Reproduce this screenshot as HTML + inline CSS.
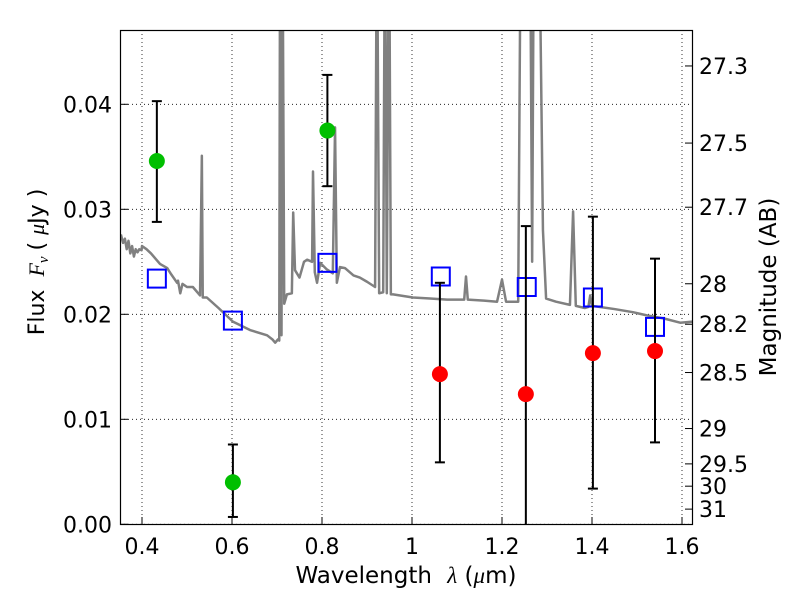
<!DOCTYPE html>
<html><head><meta charset="utf-8"><style>
body{margin:0;background:#fff;}
svg{display:block;font-family:"DejaVu Sans","Liberation Sans",sans-serif;}
</style></head><body>
<svg id="chart" width="800" height="600" viewBox="0 0 800 600">
<defs><clipPath id="clip"><rect x="120" y="30" width="573" height="495"/></clipPath></defs>
<rect x="0" y="0" width="800" height="600" fill="#fff"/>
<g id="grid"></g>
<g id="spec" clip-path="url(#clip)"></g>
<g id="marks" clip-path="url(#clip)"></g>
<rect x="120.5" y="30.5" width="572" height="494" fill="none" stroke="#000" stroke-width="1.2"/>
<g id="axes"></g>
<text x="406" y="583" font-size="23" text-anchor="middle">Wavelength <tspan font-family="Liberation Serif,serif" font-style="italic" dx="8">λ</tspan> (<tspan font-family="Liberation Serif,serif" font-style="italic">μ</tspan>m)</text>
<text transform="translate(44,262) rotate(-90)" font-size="22" text-anchor="middle">Flux <tspan font-family="Liberation Serif,serif" font-style="italic" dx="6">F<tspan font-size="15" dy="4">ν</tspan></tspan><tspan dy="-4" dx="6">( </tspan><tspan font-family="Liberation Serif,serif" font-style="italic">μ</tspan>Jy )</text>
<text transform="translate(776,287) rotate(-90)" font-size="23" text-anchor="middle">Magnitude (AB)</text>
</svg>
<script>
const xTicks=[0.4,0.6,0.8,1.0,1.2,1.4,1.6];
const xTickLabels=["0.4","0.6","0.8","1","1.2","1.4","1.6"];
const yTicks=[0,0.01,0.02,0.03,0.04];
const yTickLabels=["0.00","0.01","0.02","0.03","0.04"];
const magTicks=[27.3,27.5,27.7,28,28.2,28.5,29,29.5,30,31];
const specLam=[0.353,0.358,0.362,0.366,0.370,0.374,0.378,0.382,0.386,0.390,0.394,0.399,0.40,0.41,0.42,0.43,0.44,0.456,0.465,0.478,0.48,0.485,0.49,0.50,0.513,0.529,0.533,0.535,0.538,0.544,0.57,0.602,0.64,0.678,0.690,0.696,0.702,0.705,0.707,0.710,0.712,0.716,0.722,0.733,0.736,0.740,0.750,0.760,0.767,0.778,0.780,0.784,0.789,0.796,0.810,0.824,0.829,0.833,0.840,0.851,0.870,0.884,0.900,0.918,0.922,0.927,0.936,0.940,0.944,0.949,0.953,0.958,1.002,1.04,1.078,1.116,1.120,1.124,1.16,1.189,1.200,1.209,1.236,1.242,1.262,1.267,1.271,1.282,1.291,1.298,1.32,1.351,1.358,1.364,1.384,1.392,1.396,1.400,1.418,1.45,1.491,1.522,1.56,1.596,1.624];
const specFlux=[0.0276,0.0268,0.0272,0.0262,0.0270,0.0258,0.0265,0.0255,0.0262,0.0259,0.0262,0.0261,0.0265,0.0262,0.0258,0.0253,0.0248,0.0244,0.0238,0.0230,0.0232,0.0220,0.0229,0.0226,0.0226,0.0218,0.0351,0.0216,0.0216,0.0216,0.0206,0.0193,0.0185,0.0180,0.0176,0.0173,0.0176,0.0175,0.06,0.018,0.06,0.021,0.0219,0.022,0.0297,0.0242,0.0235,0.0250,0.0252,0.0250,0.0336,0.0240,0.0230,0.0249,0.0243,0.0239,0.0378,0.0230,0.0245,0.0244,0.0237,0.0235,0.0231,0.0226,0.06,0.022,0.0221,0.06,0.022,0.06,0.0219,0.0219,0.0216,0.0215,0.0214,0.0214,0.0236,0.0214,0.0213,0.0212,0.0233,0.0212,0.0212,0.06,0.06,0.025,0.06,0.06,0.028,0.0215,0.0212,0.0209,0.0298,0.0208,0.0206,0.0207,0.0218,0.0208,0.0207,0.0205,0.0202,0.0199,0.0196,0.0192,0.0193];
const greenLam=[0.433,0.602,0.812];
const greenFlux=[0.0346,0.0040,0.0375];
const greenLo=[0.0288,0.0007,0.0322];
const greenHi=[0.0403,0.0076,0.0428];
const redLam=[1.062,1.253,1.402,1.540];
const redFlux=[0.0143,0.0124,0.0163,0.0165];
const redLo=[0.0059,0.0,0.0034,0.0078];
const redHi=[0.0230,0.0284,0.0293,0.0253];
const modelLam=[0.433,0.602,0.812,1.064,1.255,1.402,1.540];
const modelFlux=[0.0234,0.0194,0.0249,0.0236,0.0226,0.0216,0.0188];

const NS="http://www.w3.org/2000/svg";
const X=l=>142+(l-0.4)*450;
const Y=f=>524.3-f*10500;
function mk(parent,tag,attrs){const e=document.createElementNS(NS,tag);for(const k in attrs)e.setAttribute(k,attrs[k]);document.getElementById(parent).appendChild(e);return e;}
xTicks.forEach((t,i)=>{
 const g=mk('grid','line',{x1:X(t),x2:X(t),y1:30,y2:525,stroke:'#000','stroke-width':0.8,'stroke-dasharray':'1,3'});
 
 
 const tk=mk('axes','line',{x1:X(t),x2:X(t),y1:525,y2:517,stroke:'#000'});
 
 
 const tx=mk('axes','text',{x:X(t),y:554,'font-size':22,'text-anchor':'middle'});tx.textContent=xTickLabels[i];
 
 
});
yTicks.forEach((t,i)=>{
 const g=mk('grid','line',{x1:120,x2:693,y1:Y(t),y2:Y(t),stroke:'#000','stroke-width':0.8,'stroke-dasharray':'1,3'});
 
 
 const tk=mk('axes','line',{x1:120,x2:128,y1:Y(t),y2:Y(t),stroke:'#000'});
 
 
 const tx=mk('axes','text',{x:112,y:Y(t)+8,'font-size':22,'text-anchor':'end'});tx.textContent=yTickLabels[i];
 
 
});
magTicks.forEach(m=>{
 const f=Math.pow(10,(23.9-m)/2.5);const y=Y(f);
 const tk=mk('axes','line',{x1:685,x2:693,y1:y,y2:y,stroke:'#000'});
 
 
 const tx=mk('axes','text',{x:699,y:y+8,'font-size':22});tx.textContent=String(m);
 
 
});
const sp=mk('spec','polyline',{points:specLam.map((l,i)=>X(l)+','+Y(specFlux[i])).join(' '),fill:'none',stroke:'#808080','stroke-width':2.5,'stroke-linejoin':'round'});


function errbar(l,lo,hi){
 const x=X(l);
 const v=mk('marks','line',{x1:x,x2:x,y1:Y(lo),y2:Y(hi),stroke:'#000','stroke-width':2});
 
 
 [lo,hi].forEach(f=>{if(f<=0)return;const c=mk('marks','line',{x1:x-5,x2:x+5,y1:Y(f),y2:Y(f),stroke:'#000','stroke-width':2});
  
  });
}
modelLam.forEach((l,i)=>{
 const r=mk('marks','rect',{x:X(l)-9,y:Y(modelFlux[i])-9,width:18,height:18,fill:'none',stroke:'#0000ff','stroke-width':2});
 
 
});
greenLam.forEach((l,i)=>{
 errbar(l,greenLo[i],greenHi[i]);
 const c=mk('marks','circle',{cx:X(l),cy:Y(greenFlux[i]),r:8,fill:'#00bf00'});
 
 
});
redLam.forEach((l,i)=>{
 errbar(l,redLo[i],redHi[i]);
 const c=mk('marks','circle',{cx:X(l),cy:Y(redFlux[i]),r:8,fill:'#ff0000'});
 
 
});
</script>
</body></html>
